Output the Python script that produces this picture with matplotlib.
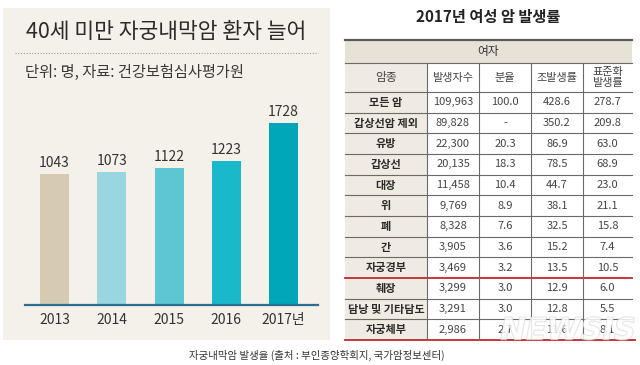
import matplotlib
matplotlib.use('Agg')
import matplotlib.pyplot as plt
from matplotlib.patches import Rectangle
import matplotlib.patheffects as pe

plt.rcParams['font.family'] = ['Noto Sans CJK KR', 'DejaVu Sans']

# left chart data
years = ['2013', '2014', '2015', '2016', '2017년']
patients = [1043, 1073, 1122, 1223, 1728]
bar_colors = ['#d6cbb2', '#9ad6df', '#5ec5d2', '#19b8cb', '#00a7b8']

# right table data
headers = ['암종', '발생자수', '분율', '조발생률', '표준화\n발생률']
cancer_types = ['모든 암', '갑상선암 제외', '유방', '갑상선', '대장', '위', '폐', '간',
                '자궁경부', '췌장', '담낭 및 기타담도', '자궁체부']
counts = ['109,963', '89,828', '22,300', '20,135', '11,458', '9,769', '8,328', '3,905',
          '3,469', '3,299', '3,291', '2,986']
shares = ['100.0', '-', '20.3', '18.3', '10.4', '8.9', '7.6', '3.6', '3.2', '3.0', '3.0', '2.7']
crude_rate = ['428.6', '350.2', '86.9', '78.5', '44.7', '38.1', '32.5', '15.2', '13.5',
              '12.9', '12.8', '11.6']
std_rate = ['278.7', '209.8', '63.0', '68.9', '23.0', '21.1', '15.8', '7.4', '10.5',
            '6.0', '5.5', '8.1']

W, H = 640, 365
fig = plt.figure(figsize=(W / 100, H / 100), dpi=100)


def px_axes(x0, y0, x1, y1):
    # pixel box, origin top-left
    return fig.add_axes([x0 / W, 1 - y1 / H, (x1 - x0) / W, (y1 - y0) / H])


back = px_axes(0, 0, W, H)
back.set_xlim(0, W)
back.set_ylim(H, 0)
back.axis('off')
back.add_patch(Rectangle((3, 8), 327, 332, color='#f4f1ea', lw=0))

# left panel titles
back.text(166, 32, '40세 미만 자궁내막암 환자 늘어', ha='center', va='center',
          fontsize=15.5, fontweight='medium', color='#2b2b2b')
back.plot([15, 318], [53, 53], color='#9a9a9a', lw=0.8, ls=(0, (1, 1.5)))
back.text(25, 72, '단위: 명, 자료: 건강보험심사평가원', ha='left', va='center',
          fontsize=11, color='#3a3a3a')

# bar chart
ax = px_axes(25, 100, 318, 305)
ax.patch.set_alpha(0)
base = -713
ax.set_xlim(-0.515, 4.60)
ax.set_ylim(base, 2039)
xs = range(len(years))
ax.bar(xs, [v - base for v in patients], bottom=base, width=0.507, color=bar_colors)
for x, v in zip(xs, patients):
    ax.annotate(str(v), (x, v), xytext=(0, 3), textcoords='offset points',
                ha='center', va='bottom', fontsize=10, color='#333333')
for s in ['top', 'right', 'left']:
    ax.spines[s].set_visible(False)
ax.spines['bottom'].set_color('#2b6e8f')
ax.spines['bottom'].set_linewidth(1.6)
ax.set_yticks([])
ax.set_xticks(list(xs))
ax.set_xticklabels(years, fontsize=10, color='#333333')
ax.tick_params(axis='x', length=0, pad=6)

# right table
back.text(488, 17, '2017년 여성 암 발생률', ha='center', va='center',
          fontsize=11, fontweight='bold', color='#222222')

col_x = [345, 427, 479, 531, 583, 632]
top, y_group, y_head = 40, 63, 92
row_h = (340 - y_head) / len(cancer_types)
row_y = [y_head + i * row_h for i in range(len(cancer_types) + 1)]

back.add_patch(Rectangle((col_x[0], top), col_x[-1] - col_x[0], y_group - top,
                         color='#e7e2d6', lw=0))
back.add_patch(Rectangle((col_x[0], y_group), col_x[1] - col_x[0], 340 - y_group,
                         color='#efebe2', lw=0))
back.text((col_x[0] + col_x[-1]) / 2, (top + y_group) / 2, '여자', ha='center',
          va='center', fontsize=8.5, color='#333333')

for j, h in enumerate(headers):
    back.text((col_x[j] + col_x[j + 1]) / 2, (y_group + y_head) / 2, h, ha='center',
              va='center', fontsize=8 if j else 8.5, color='#444444', linespacing=1.1)

columns = [cancer_types, counts, shares, crude_rate, std_rate]
for j, col in enumerate(columns):
    cx = (col_x[j] + col_x[j + 1]) / 2
    for i, val in enumerate(col):
        cy = (row_y[i] + row_y[i + 1]) / 2
        back.text(cx, cy, val, ha='center', va='center', fontsize=8,
                  fontweight='bold' if j == 0 else 'normal',
                  color='#2b2b2b' if j == 0 else '#444444')

# grid lines
back.plot([col_x[0], col_x[-1]], [top, top], color='#5a5a5a', lw=1.6)
back.plot([col_x[0], col_x[-1]], [y_group, y_group], color='#6a6a6a', lw=0.8)
back.plot([col_x[0], col_x[-1]], [y_head, y_head], color='#6a6a6a', lw=0.8)
for i, y in enumerate(row_y[1:-1], start=1):
    if i == 9:
        back.plot([col_x[0], col_x[-1]], [y, y], color='#c0282f', lw=1.3)
    else:
        back.plot([col_x[0], col_x[-1]], [y, y], color='#6a6a6a', lw=0.8)
back.plot([col_x[0], col_x[-1] + 3], [row_y[-1], row_y[-1]], color='#c0282f', lw=1.3)
for x in col_x[1:-1]:
    back.plot([x, x], [y_group, row_y[-1]], color='#6a6a6a', lw=0.8)

# footer and watermark
back.text(317, 355, '자궁내막암 발생율 (출처 : 부인종양학회지, 국가암정보센터)', ha='center',
          va='center', fontsize=7.5, color='#333333')
back.text(568, 331, 'NEWSIS', ha='center', va='center', fontsize=22, fontweight='bold',
          style='italic', family='DejaVu Sans', color='white', alpha=0.6,
          path_effects=[pe.withStroke(linewidth=1.0, foreground='#d0d0d0')])

fig.savefig('out.png', dpi=100)
